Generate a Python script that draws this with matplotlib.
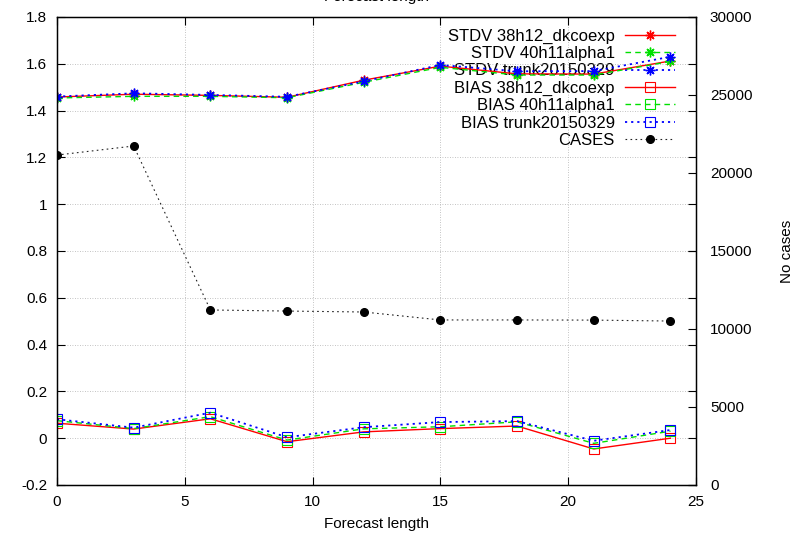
import numpy as np
import matplotlib
matplotlib.use("Agg")
import matplotlib.pyplot as plt

plt.rcParams["font.family"] = ["Liberation Sans", "DejaVu Sans"]
plt.rcParams["font.size"] = 11

# forecast lengths (h)
fclen = [0, 3, 6, 9, 12, 15, 18, 21, 24]

stdv_38h12 = [1.458, 1.470, 1.465, 1.457, 1.530, 1.590, 1.557, 1.556, 1.612]
stdv_40h11 = [1.454, 1.461, 1.461, 1.455, 1.521, 1.585, 1.552, 1.552, 1.610]
stdv_trunk = [1.460, 1.474, 1.467, 1.459, 1.525, 1.595, 1.568, 1.569, 1.630]

bias_38h12 = [0.064, 0.039, 0.083, -0.015, 0.027, 0.041, 0.052, -0.046, 0.000]
bias_40h11 = [0.075, 0.041, 0.092, -0.008, 0.040, 0.049, 0.070, -0.022, 0.030]
bias_trunk = [0.081, 0.045, 0.109, 0.004, 0.047, 0.069, 0.073, -0.011, 0.035]

cases = [21150, 21730, 11220, 11150, 11090, 10580, 10580, 10570, 10510]

RED, GREEN, BLUE = "#ff0000", "#00e000", "#0000ff"
ast = (8, 2, 0)  # gnuplot-ish asterisk
dashed = (0, (4, 3))
dotted = (0, (1.2, 2.2))

fig = plt.figure(figsize=(7.94, 5.41), dpi=100)
ax = fig.add_axes([57 / 794, 56 / 541, 639 / 794, 468 / 541])
ax2 = ax.twinx()

h = []
h += ax.plot(fclen, stdv_38h12, "-", color=RED, lw=1, marker=ast, ms=7, mew=1,
             label="STDV 38h12_dkcoexp")
h += ax.plot(fclen, stdv_40h11, color=GREEN, ls=dashed, lw=1, marker=ast, ms=7,
             mew=1, label="STDV 40h11alpha1")
h += ax.plot(fclen, stdv_trunk, color=BLUE, ls=dotted, lw=1.3, marker=ast, ms=7,
             mew=1, label="STDV trunk20150329")
h += ax.plot(fclen, bias_38h12, "-", color=RED, lw=1, marker="s", ms=6.5,
             mfc="none", mew=0.8, label="BIAS 38h12_dkcoexp")
h += ax.plot(fclen, bias_40h11, color=GREEN, ls=dashed, lw=1, marker="s", ms=6.5,
             mfc="none", mew=0.8, label="BIAS 40h11alpha1")
h += ax.plot(fclen, bias_trunk, color=BLUE, ls=dotted, lw=1.3, marker="s", ms=6.5,
             mfc="none", mew=0.8, label="BIAS trunk20150329")
h += ax2.plot(fclen, cases, color="#222222", ls=(0, (1.5, 3)), lw=0.8, marker="o",
              ms=5.5, mfc="black", mec="black", label="CASES")

ax.set_xlim(0, 25)
ax.set_ylim(-0.2, 1.8)
ax.set_xticks(np.arange(0, 26, 5))
ax.set_yticks(np.arange(-0.2, 1.81, 0.2))
ax.set_yticklabels(["-0.2", "0", "0.2", "0.4", "0.6", "0.8", "1", "1.2", "1.4",
                    "1.6", "1.8"])
ax2.set_ylim(0, 30000)
ax2.set_yticks(np.arange(0, 30001, 5000))

ax.tick_params(direction="in", length=6, top=True, right=True, pad=7)
ax2.tick_params(direction="in", length=6, pad=10)
ax.grid(True, color="#b0b0b0", ls=(0, (1, 2)), lw=0.6)
for sp in ax.spines.values():
    sp.set_linewidth(1)

ax.set_xlabel("Forecast length", labelpad=6)
ax2.set_ylabel("No cases", labelpad=20)
fig.text(376 / 794, 1 - 1 / 541, "Forecast length", ha="center", va="baseline")

leg = ax.legend(handles=h, loc="upper right", frameon=False, markerfirst=False,
                fontsize=12, handlelength=3.0, handletextpad=0.6,
                labelspacing=0.14, borderaxespad=0.3,
                bbox_to_anchor=(0.985, 1.0))
leg.set_zorder(1)

fig.savefig("out.png", dpi=100)
